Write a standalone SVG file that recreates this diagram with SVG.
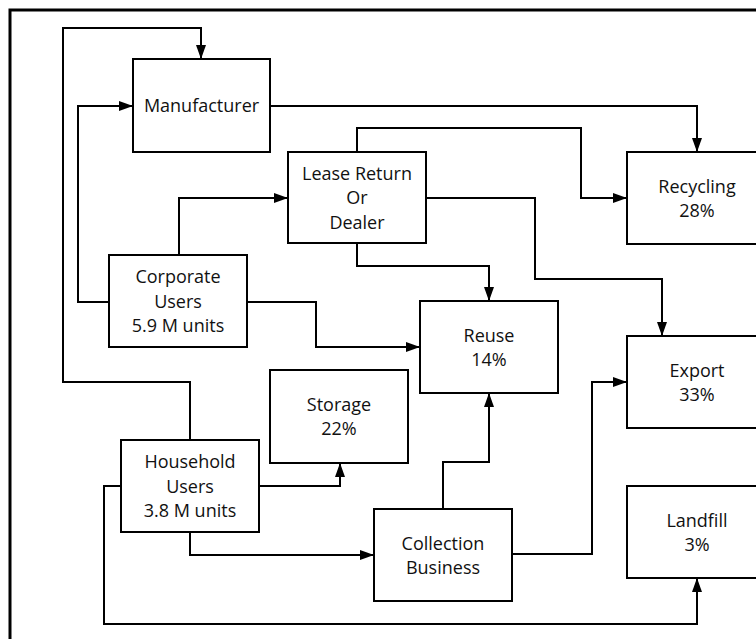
<svg xmlns="http://www.w3.org/2000/svg" width="756" height="639" viewBox="0 0 756 639">
  <style>
    .box { fill: #ffffff; stroke: #000000; stroke-width: 2; }
    .frame { fill: none; stroke: #000000; stroke-width: 3; }
    .lbl { font-family: "Open Sans", "Liberation Sans", sans-serif; font-size: 18px; fill: #111111; text-anchor: middle; }
    .edge { fill: none; stroke: #000000; stroke-width: 2; marker-end: url(#arrow); }
  </style>
  <defs>
    <marker id="arrow" viewBox="0 0 14 10" markerWidth="14" markerHeight="10" refX="14" refY="5" orient="auto" markerUnits="userSpaceOnUse">
      <path d="M0,0 L14,5 L0,10 z" fill="#000000"/>
    </marker>
  </defs>

  <rect width="756" height="639" fill="#ffffff"/>
  <rect class="frame" x="10" y="10" width="780" height="660"/>

  <g id="connectors">
    <path class="edge" d="M190,440 V382 H63 V28 H201 V59"/>
    <path class="edge" d="M109,302 H78 V106 H133"/>
    <path class="edge" d="M270,106 H697 V152"/>
    <path class="edge" d="M357,152 V128 H581 V198 H627"/>
    <path class="edge" d="M426,198 H535 V279 H662 V336"/>
    <path class="edge" d="M357,243 V266 H489 V301"/>
    <path class="edge" d="M179,255 V198 H288"/>
    <path class="edge" d="M247,302 H316 V347 H420"/>
    <path class="edge" d="M259,486 H340 V463"/>
    <path class="edge" d="M190,532 V555 H374"/>
    <path class="edge" d="M121,486 H104 V624 H697 V578"/>
    <path class="edge" d="M443,509 V462 H489 V393"/>
    <path class="edge" d="M512,554 H592 V382 H627"/>
  </g>

  <g id="manufacturer">
    <rect class="box" x="133" y="59" width="137" height="93"/>
    <text class="lbl" x="201.5" y="112">Manufacturer</text>
  </g>
  <g id="lease-return">
    <rect class="box" x="288" y="152" width="138" height="91"/>
    <text class="lbl" x="357" y="180">Lease Return</text>
    <text class="lbl" x="357" y="204">Or</text>
    <text class="lbl" x="357" y="229">Dealer</text>
  </g>
  <g id="recycling">
    <rect class="box" x="627" y="152" width="138" height="92"/>
    <text class="lbl" x="697" y="192.5">Recycling</text>
    <text class="lbl" x="697" y="216.5">28%</text>
  </g>
  <g id="corporate-users">
    <rect class="box" x="109" y="255" width="138" height="92"/>
    <text class="lbl" x="178" y="283">Corporate</text>
    <text class="lbl" x="178" y="307.5">Users</text>
    <text class="lbl" x="178" y="332">5.9 M units</text>
  </g>
  <g id="reuse">
    <rect class="box" x="420" y="301" width="138" height="92"/>
    <text class="lbl" x="489" y="342">Reuse</text>
    <text class="lbl" x="489" y="366">14%</text>
  </g>
  <g id="export">
    <rect class="box" x="627" y="336" width="138" height="92"/>
    <text class="lbl" x="697" y="376.5">Export</text>
    <text class="lbl" x="697" y="400.5">33%</text>
  </g>
  <g id="storage">
    <rect class="box" x="270" y="370" width="138" height="93"/>
    <text class="lbl" x="339" y="411">Storage</text>
    <text class="lbl" x="339" y="435">22%</text>
  </g>
  <g id="household-users">
    <rect class="box" x="121" y="440" width="138" height="92"/>
    <text class="lbl" x="190" y="468">Household</text>
    <text class="lbl" x="190" y="492.5">Users</text>
    <text class="lbl" x="190" y="517">3.8 M units</text>
  </g>
  <g id="landfill">
    <rect class="box" x="627" y="486" width="138" height="92"/>
    <text class="lbl" x="697" y="526.5">Landfill</text>
    <text class="lbl" x="697" y="550.5">3%</text>
  </g>
  <g id="collection-business">
    <rect class="box" x="374" y="509" width="138" height="92"/>
    <text class="lbl" x="443" y="549.5">Collection</text>
    <text class="lbl" x="443" y="573.5">Business</text>
  </g>
</svg>
